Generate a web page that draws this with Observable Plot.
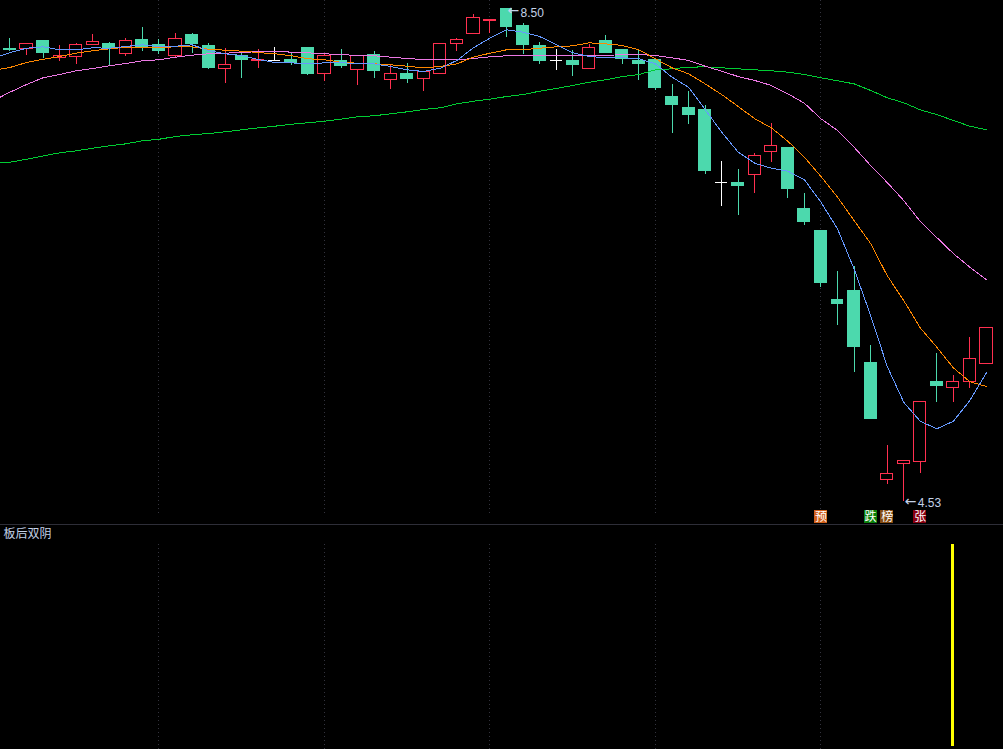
<!DOCTYPE html>
<html>
<head>
<meta charset="utf-8">
<style>
html,body{margin:0;padding:0;background:#000;overflow:hidden}
svg{display:block}
</style>
<script src="https://cdn.jsdelivr.net/npm/d3@7"></script>
<script src="https://cdn.jsdelivr.net/npm/@observablehq/plot@0.6"></script>
</head>
<body>
<div id="main"></div>
<div id="sub"></div>
<script>
// Daily OHLC, candle 0 … 59
const opens  = [8.178,8.174,8.242,8.105,8.109,8.202,8.218,8.133,8.250,8.210,8.117,8.290,8.202,8.013,8.125,8.077,8.085,8.089,8.186,7.972,8.081,8.005,8.129,7.924,7.976,7.932,7.972,8.214,8.294,8.399,8.500,8.363,8.202,8.081,8.081,8.013,8.242,8.166,8.081,8.089,7.791,7.703,7.687,7.095,7.099,7.159,7.344,7.381,6.890,6.713,6.157,6.230,5.650,4.704,4.833,4.849,5.493,5.445,5.489,5.638];
const highs  = [8.258,8.214,8.242,8.202,8.218,8.290,8.226,8.258,8.347,8.250,8.298,8.298,8.218,8.178,8.157,8.170,8.186,8.149,8.186,8.129,8.170,8.121,8.153,8.041,8.053,7.988,8.214,8.262,8.455,8.411,8.500,8.379,8.226,8.170,8.162,8.210,8.282,8.166,8.170,8.089,7.888,7.831,7.719,7.268,7.204,7.332,7.574,7.381,7.010,6.713,6.382,6.423,5.787,4.982,4.861,5.332,5.726,5.545,5.851,5.928];
const lows   = [8.153,8.121,8.097,8.073,8.049,8.202,8.041,8.113,8.153,8.129,8.105,8.137,8.009,7.896,7.936,8.017,8.073,8.041,7.960,7.912,8.017,7.880,7.936,7.848,7.896,7.831,7.972,8.153,8.294,8.302,8.270,8.129,8.049,8.000,7.952,8.013,8.137,8.049,7.920,7.840,7.493,7.566,7.163,6.906,6.833,7.010,7.260,6.970,6.753,6.254,5.948,5.569,5.191,4.668,4.530,4.760,5.324,5.324,5.437,5.638];
const closes = [8.162,8.214,8.137,8.117,8.206,8.226,8.170,8.238,8.182,8.153,8.254,8.206,8.017,8.045,8.081,8.085,8.085,8.057,7.968,8.117,8.033,8.121,7.996,7.972,7.928,7.988,8.214,8.246,8.423,8.411,8.347,8.202,8.073,8.081,8.041,8.182,8.137,8.089,8.049,7.856,7.719,7.638,7.187,7.095,7.067,7.312,7.393,7.043,6.777,6.286,6.117,5.771,5.191,4.752,4.853,5.332,5.453,5.493,5.678,5.928];

// Moving averages, candle -1 … 59 (the first point lies just left of the window)
const ma5  = [8.097,8.145,8.180,8.191,8.167,8.167,8.183,8.180,8.194,8.207,8.194,8.196,8.207,8.162,8.135,8.121,8.089,8.065,8.062,8.054,8.062,8.062,8.059,8.054,8.033,8.006,7.992,8.019,8.081,8.183,8.261,8.328,8.309,8.274,8.210,8.143,8.113,8.103,8.103,8.095,8.054,7.947,7.866,7.687,7.504,7.343,7.254,7.214,7.190,7.121,6.940,6.726,6.404,6.028,5.620,5.330,5.177,5.116,5.177,5.344,5.567];
const ma10 = [8.001,8.025,8.065,8.091,8.113,8.140,8.159,8.175,8.188,8.183,8.186,8.191,8.191,8.172,8.164,8.156,8.145,8.135,8.119,8.095,8.087,8.067,8.059,8.054,8.046,8.035,8.022,8.033,8.054,8.108,8.140,8.167,8.167,8.180,8.191,8.199,8.223,8.215,8.202,8.167,8.095,8.022,7.974,7.893,7.807,7.711,7.612,7.539,7.431,7.303,7.147,6.981,6.793,6.608,6.350,6.149,5.929,5.773,5.607,5.495,5.457];
const ma20 = [7.759,7.826,7.888,7.942,7.968,7.998,8.017,8.038,8.057,8.079,8.087,8.108,8.124,8.135,8.140,8.145,8.153,8.156,8.148,8.143,8.135,8.129,8.121,8.119,8.108,8.097,8.089,8.089,8.087,8.097,8.111,8.119,8.119,8.119,8.121,8.121,8.121,8.121,8.129,8.129,8.121,8.103,8.081,8.035,7.995,7.952,7.920,7.880,7.813,7.737,7.612,7.518,7.383,7.236,7.099,6.954,6.785,6.656,6.527,6.417,6.316];
const ma60 = [7.252,7.262,7.286,7.312,7.338,7.354,7.375,7.394,7.410,7.435,7.447,7.469,7.483,7.493,7.507,7.523,7.539,7.552,7.568,7.580,7.592,7.609,7.628,7.636,7.652,7.668,7.687,7.700,7.732,7.753,7.770,7.791,7.807,7.834,7.856,7.880,7.906,7.926,7.952,7.968,8.006,8.014,8.027,8.030,8.022,8.014,8.006,7.998,7.987,7.968,7.942,7.918,7.893,7.840,7.781,7.741,7.684,7.646,7.598,7.552,7.523];

// Grid candles, extreme labels, event flags, indicator signal
const gridCandles = [9,19,29,39,49];
const extremeCandles = [30,54];
const extremePrices  = [8.50,4.53];
const extremeLabels  = ["8.50","4.53"];
const flagCandles = [49,52,53,55];
const flagLabels  = ["预","跌","榜","张"];
const signalCandles = [57];
const signalValues  = [1];
const indicatorName = "板后双阴";

// Styles
const TEAL="#4CD9AD", RED="#FF3050", WHITE="#FFFFFF";
const BLUE="#6699FF", ORANGE="#FF8800", PINK="#EC78E4", GREEN="#00CC33";
const GRID="#33333D", SEP="#2E2E38", LABEL="#C4D2E8";
const FLAG_FILLS=["#D0601A","#0A800A","#844A10","#880010"];
const CJK='"Noto Sans CJK SC","Noto Sans",sans-serif';
const crisp={shapeRendering:"crispEdges"};

// Tables built from the arrays
const candles = opens.map((o,i)=>({i,o,h:highs[i],l:lows[i],c:closes[i]}));
const up   = candles.filter(d=>d.c>d.o);
const down = candles.filter(d=>d.c<d.o);
const flat = candles.filter(d=>d.c===d.o);
const maLine = (arr,stroke)=>Plot.line(arr.map((v,k)=>({x:k-1,v})),{x:"x",y:"v",stroke,strokeWidth:1,clip:true,...crisp});
const wick = (rows,stroke)=>Plot.ruleX(rows,{x:"i",y1:"l",y2:"h",stroke,strokeWidth:1,...crisp});
const half=0.37;
const extremes = extremeCandles.map((i,k)=>({i,p:extremePrices[k],t:extremeLabels[k]}));
const flags = flagCandles.map((i,k)=>({i,t:flagLabels[k],f:FLAG_FILLS[k]}));
const xDomain=[-0.574,60.03];
const yTop=8.564, yBottom=4.3458, flagTop=4.4585, flagBottom=4.350, flagMid=4.404, gridBottom=4.432;
const labelMark=(row,arrowDy,textDy)=>[
  Plot.text([row],{x:"i",y:"p",text:()=>"←",textAnchor:"start",dx:1,dy:arrowDy,fontSize:14,fontFamily:"DejaVu Sans",fill:LABEL}),
  Plot.text([row],{x:"i",y:"p",text:"t",textAnchor:"start",dx:14,dy:textDy,fontSize:12,fontFamily:"Liberation Sans",fill:LABEL})
];

document.getElementById("main").append(Plot.plot({
  width:1003,height:524,margin:0,
  style:{background:"#000"},
  x:{domain:xDomain,range:[0,1003],axis:null},
  y:{domain:[yBottom,yTop],range:[524,0],axis:null},
  color:{type:"identity"},
  marks:[
    Plot.ruleX(gridCandles,{x:d=>d,y1:gridBottom,y2:yTop,stroke:GRID,strokeWidth:1,strokeDasharray:"1 3",...crisp}),
    wick(down,TEAL),wick(up,RED),wick(flat,WHITE),
    Plot.rect(down,{x1:d=>d.i-half-0.02,x2:d=>d.i+half+0.02,y1:"o",y2:"c",fill:TEAL,...crisp}),
    Plot.rect(up,{x1:d=>d.i-half,x2:d=>d.i+half,y1:"o",y2:"c",fill:"#000",stroke:RED,strokeWidth:1,...crisp}),
    Plot.ruleY(flat,{x1:d=>d.i-half,x2:d=>d.i+half,y:"o",stroke:WHITE,strokeWidth:1,...crisp}),
    maLine(ma60,GREEN),maLine(ma20,PINK),maLine(ma10,ORANGE),maLine(ma5,BLUE),
    labelMark(extremes[0],2,5),
    labelMark(extremes[1],0,2),
    Plot.rect(flags,{x1:d=>d.i-0.39,x2:d=>d.i+0.39,y1:flagBottom,y2:flagTop,fill:"f",...crisp}),
    Plot.text(flags,{x:"i",y:flagMid,text:"t",fontSize:12,fontFamily:CJK,fill:"#fff"})
  ]
}));

document.getElementById("sub").append(Plot.plot({
  width:1003,height:225,marginTop:0,marginBottom:3,marginLeft:0,marginRight:0,
  style:{background:"#000"},
  x:{domain:xDomain,range:[0,1003],axis:null},
  y:{domain:[0,1.099],axis:null},
  marks:[
    Plot.ruleX(gridCandles,{x:d=>d,y1:-0.015,y2:1,stroke:GRID,strokeWidth:1,strokeDasharray:"1 3",...crisp}),
    Plot.ruleY([1.099],{stroke:SEP,strokeWidth:1,...crisp}),
    Plot.ruleX(signalCandles,{x:d=>d,dx:-1,y1:0,y2:(d,k)=>signalValues[k],stroke:"#FFFF00",strokeWidth:3,...crisp}),
    Plot.text([indicatorName],{text:d=>d,frameAnchor:"top-left",lineAnchor:"middle",dx:3,dy:10,fontSize:12,fontFamily:CJK,fill:LABEL})
  ]
}));
</script>
</body>
</html>
